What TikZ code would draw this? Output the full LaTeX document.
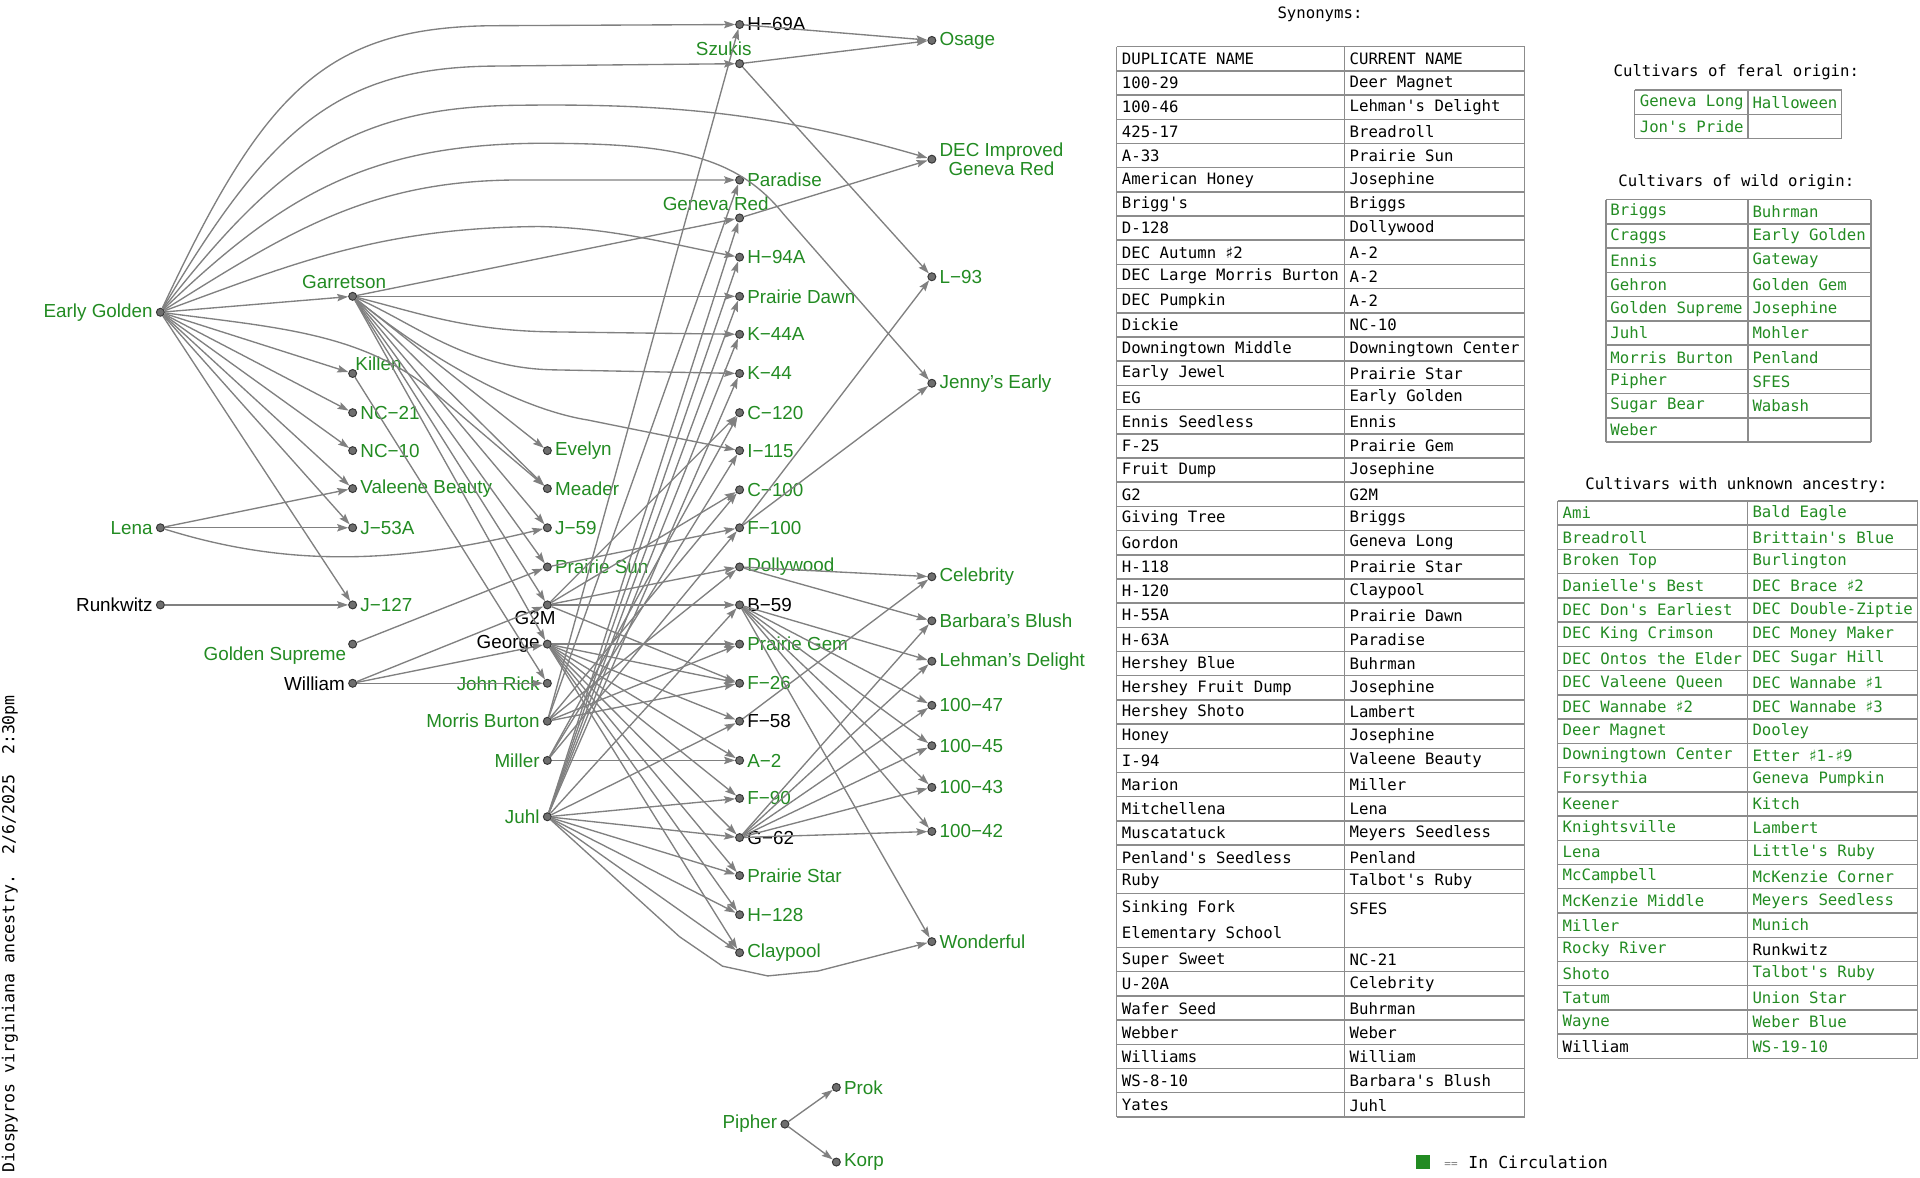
\documentclass[tikz,border=0pt]{standalone}
\usepackage{fontspec}
\setmainfont{Liberation Sans}
\newfontfamily\monofont{DejaVu Sans Mono}
\newfontfamily\symfont{DejaVu Sans}
\usepackage{xcolor}
\usetikzlibrary{arrows.meta}

\definecolor{leafgreen}{RGB}{34,139,34}
\definecolor{edgegray}{RGB}{128,128,128}
\definecolor{dotgray}{RGB}{110,110,110}
\definecolor{dotdark}{RGB}{55,55,55}
\definecolor{gridgray}{RGB}{140,140,140}
\newcommand{\shp}{{\symfont\char"266F}}

\begin{document}
\begin{tikzpicture}[x=1pt,y=-1pt,
  pt/.style={circle,fill=dotgray,draw=dotdark,line width=0.8pt,inner sep=0pt,minimum size=6.5pt},
  lab/.style={font=\fontsize{15.4}{15}\selectfont,text=leafgreen,inner sep=2.5pt},
  old/.style={lab,text=black},
  edge/.style={draw=edgegray,line width=1.1pt,-{Stealth[length=9pt,width=6pt,inset=1.5pt]}},
  tline/.style={draw=gridgray,line width=1.2pt},
  tcell/.style={font=\monofont\fontsize{12.8}{14}\selectfont,anchor=west,inner sep=0pt},
  gcell/.style={tcell,text=leafgreen},
  ttitle/.style={font=\monofont\fontsize{12.8}{14}\selectfont,inner sep=0pt}]

\useasboundingbox (0,0) rectangle (1568,962);

% Caption
\node[ttitle,font=\monofont\fontsize{13.5}{15}\selectfont,rotate=90,anchor=west] (caption) at (8,958) {Diospyros virginiana ancestry.\ \ 2/6/2025\ \ 2:30pm};

% Column 0
\node[pt,label={[lab]left:Early Golden}] (eg) at (131,255) {};
\node[pt,label={[lab]left:Lena}] (lena) at (131,431) {};
\node[pt,label={[old]left:Runkwitz}] (runk) at (131,494) {};

% Column 1
\node[pt,label={[lab,xshift=-7pt]above:Garretson}] (garr) at (288,242) {};
\node[pt,label={[lab,xshift=-3pt,yshift=-3pt]above right:Killen}] (killen) at (288,305) {};
\node[pt,label={[lab]right:NC−21}] (nc21) at (288,337) {};
\node[pt,label={[lab]right:NC−10}] (nc10) at (288,368) {};
\node[pt,label={[lab]right:Valeene Beauty}] (valeene) at (288,399) {};
\node[pt,label={[lab]right:J−53A}] (j53a) at (288,431) {};
\node[pt,label={[lab]right:J−127}] (j127) at (288,494) {};
\node[pt,label={[lab,yshift=3pt]below left:Golden Supreme}] (goldsup) at (288,526) {};
\node[pt,label={[old]left:William}] (william) at (288,558) {};

% Column 2
\node[pt,label={[lab]right:Evelyn}] (evelyn) at (447,368) {};
\node[pt,label={[lab]right:Meader}] (meader) at (447,399) {};
\node[pt,label={[lab]right:J−59}] (j59) at (447,431) {};
\node[pt,label={[lab]right:Prairie Sun}] (psun) at (447,463) {};
\node[pt,label={[old,xshift=12pt]below left:G2M}] (gtwom) at (447,494) {};
\node[pt,label={[old]left:George}] (george) at (447,526) {};
\node[pt,label={[lab]left:John Rick}] (jrick) at (447,558) {};
\node[pt,label={[lab]left:Morris Burton}] (morris) at (447,589) {};
\node[pt,label={[lab]left:Miller}] (miller) at (447,621) {};
\node[pt,label={[lab]left:Juhl}] (juhl) at (447,667) {};

% Column 3
\node[pt,label={[old]right:H−69A}] (h69a) at (604,20) {};
\node[pt,label={[lab,xshift=15pt,yshift=1pt]above left:Szukis}] (szukis) at (604,52) {};
\node[pt,label={[lab]right:Paradise}] (paradise) at (604,147) {};
\node[pt,label={[lab,xshift=29pt,yshift=1pt]above left:Geneva Red}] (genred) at (604,178) {};
\node[pt,label={[lab]right:H−94A}] (h94a) at (604,210) {};
\node[pt,label={[lab]right:Prairie Dawn}] (pdawn) at (604,242) {};
\node[pt,label={[lab]right:K−44A}] (k44a) at (604,273) {};
\node[pt,label={[lab]right:K−44}] (k44) at (604,305) {};
\node[pt,label={[lab]right:C−120}] (c120) at (604,337) {};
\node[pt,label={[lab]right:I−115}] (i115) at (604,368) {};
\node[pt,label={[lab]right:C−100}] (c100) at (604,400) {};
\node[pt,label={[lab]right:F−100}] (f100) at (604,431) {};
\node[pt,label={[lab]right:Dollywood}] (dolly) at (604,463) {};
\node[pt,label={[old]right:B−59}] (b59) at (604,494) {};
\node[pt,label={[lab]right:Prairie Gem}] (pgem) at (604,526) {};
\node[pt,label={[lab]right:F−26}] (f26) at (604,558) {};
\node[pt,label={[old]right:F−58}] (f58) at (604,589) {};
\node[pt,label={[lab]right:A−2}] (atwo) at (604,621) {};
\node[pt,label={[lab]right:F−90}] (f90) at (604,652) {};
\node[pt,label={[old]right:G−62}] (g62) at (604,684) {};
\node[pt,label={[lab]right:Prairie Star}] (pstar) at (604,715) {};
\node[pt,label={[lab]right:H−128}] (h128) at (604,747) {};
\node[pt,label={[lab]right:Claypool}] (claypool) at (604,778) {};

% Column 4
\node[pt,label={[lab]right:Osage}] (osage) at (761,33) {};
\node[pt,label={[lab,align=center]right:{DEC Improved\\Geneva Red}}] (decgr) at (761,130) {};
\node[pt,label={[lab]right:L−93}] (l93) at (761,226) {};
\node[pt,label={[lab]right:Jenny's Early}] (jenny) at (761,313) {};
\node[pt,label={[lab]right:Celebrity}] (celeb) at (761,471) {};
\node[pt,label={[lab]right:Barbara's Blush}] (barb) at (761,507) {};
\node[pt,label={[lab]right:Lehman's Delight}] (lehman) at (761,540) {};
\node[pt,label={[lab]right:100−47}] (c47) at (761,576) {};
\node[pt,label={[lab]right:100−45}] (c45) at (761,609) {};
\node[pt,label={[lab]right:100−43}] (c43) at (761,643) {};
\node[pt,label={[lab]right:100−42}] (c42) at (761,679) {};
\node[pt,label={[lab]right:Wonderful}] (wonder) at (761,769) {};

% Pipher group
\node[pt,label={[lab]left:Pipher}] (pipher) at (641,918) {};
\node[pt,label={[lab]right:Prok}] (prok) at (683,888) {};
\node[pt,label={[lab]right:Korp}] (korp) at (683,949) {};

% Early Golden
\draw[edge] (eg) .. controls (215,75) and (265,23) .. (400,21) -- (h69a);
\draw[edge] (eg) .. controls (220,105) and (275,56) .. (400,54) -- (szukis);
\draw[edge] (eg) .. controls (225,135) and (285,88) .. (420,86) .. controls (560,84) and (640,95) .. (decgr);
\draw[edge] (eg) .. controls (230,160) and (300,118) .. (440,117) .. controls (545,117) and (600,125) .. (640,175) -- (jenny);
\draw[edge] (eg) .. controls (235,190) and (300,148) .. (420,147) -- (paradise);
\draw[edge] (eg) .. controls (240,215) and (310,186) .. (440,185) .. controls (500,186) and (550,200) .. (h94a);
\draw[edge] (eg) -- (garr);
\draw[edge] (eg) -- (killen);
\draw[edge] (eg) -- (nc21);
\draw[edge] (eg) -- (nc10);
\draw[edge] (eg) -- (valeene);
\draw[edge] (eg) -- (j53a);
\draw[edge] (eg) -- (j127);
\draw[edge] (eg) .. controls (230,268) and (300,272) .. (360,325) -- (meader);

% Lena, Runkwitz, Golden Supreme, William
\draw[edge] (lena) -- (valeene);
\draw[edge] (lena) -- (j53a);
\draw[edge] (lena) .. controls (230,462) and (320,462) .. (j59);
\draw[edge] (runk) -- (j127);
\draw[edge] (goldsup) -- (psun);
\draw[edge] (william) -- (gtwom);
\draw[edge] (william) -- (george);
\draw[edge] (william) -- (jrick);

% Garretson and Killen
\draw[edge] (garr) -- (genred);
\draw[edge] (garr) -- (pdawn);
\draw[edge] (garr) .. controls (340,255) and (380,270) .. (450,271) -- (k44a);
\draw[edge] (garr) .. controls (340,265) and (380,300) .. (450,302) -- (k44);
\draw[edge] (garr) .. controls (360,300) and (430,335) .. (480,343) -- (i115);
\draw[edge] (garr) -- (evelyn);
\draw[edge] (garr) -- (meader);
\draw[edge] (garr) -- (j59);
\draw[edge] (garr) -- (psun);
\draw[edge] (garr) -- (gtwom);
\draw[edge] (garr) -- (george);
\draw[edge] (killen) -- (jrick);

% Morris Burton
\foreach \t in {h69a,paradise,c100,dolly,pgem,f26}
  \draw[edge] (morris) -- (\t);
% Juhl
\foreach \t in {genred,h94a,pdawn,k44a,k44,b59,f58,f90,g62,pstar,h128,claypool}
  \draw[edge] (juhl) -- (\t);
\draw[edge] (juhl) -- (555,765) -- (590,789) -- (627,797) -- (668,793) -- (wonder);
% G2M, George, Miller, Prairie Sun
\foreach \t in {c120,c100,dolly,b59,f26}
  \draw[edge] (gtwom) -- (\t);
\foreach \t in {pgem,f26,f58,atwo,f90,g62,pstar,h128,claypool}
  \draw[edge] (george) -- (\t);
\foreach \t in {atwo,i115,f100,c120}
  \draw[edge] (miller) -- (\t);
\draw[edge] (psun) -- (f100);

% Third generation
\draw[edge] (h69a) -- (osage);
\draw[edge] (szukis) -- (osage);
\draw[edge] (szukis) -- (l93);
\draw[edge] (genred) -- (decgr);
\draw[edge] (f100) -- (l93);
\draw[edge] (f100) -- (jenny);
\draw[edge] (dolly) -- (celeb);
\draw[edge] (dolly) -- (barb);
\draw[edge] (f58) -- (celeb);
\draw[edge] (g62) -- (barb);
\foreach \t in {lehman,c47,c45,c43,c42,wonder}
  \draw[edge] (b59) -- (\t);
\foreach \t in {lehman,c47,c45,c43,c42}
  \draw[edge] (g62) -- (\t);
\draw[edge] (pipher) -- (prok);
\draw[edge] (pipher) -- (korp);

% Synonyms table
\node[ttitle] (syntitle) at (1078,12) {Synonyms:};
\foreach \k in {0,...,35}
  \draw[tline] (912,{38.1+19.76*\k}) -- (1245,{38.1+19.76*\k});
\foreach \k in {0,...,7}
  \draw[tline] (912,{773.8+19.76*\k}) -- (1245,{773.8+19.76*\k});
\foreach \x in {912,1098,1245}
  \draw[tline] (\x,38.1) -- (\x,912.1);
\node[tcell] (synhead) at (916,48) {DUPLICATE NAME};
\node[tcell] (curhead) at (1102,48) {CURRENT NAME};
\foreach \a/\b [count=\i] in {100-29/Deer Magnet,100-46/Lehman's Delight,425-17/Breadroll,A-33/Prairie Sun,
    American Honey/Josephine,Brigg's/Briggs,D-128/Dollywood,DEC Autumn \shp2/A-2,
    DEC Large Morris Burton/A-2,DEC Pumpkin/A-2,Dickie/NC-10,Downingtown Middle/Downingtown Center,
    Early Jewel/Prairie Star,EG/Early Golden,Ennis Seedless/Ennis,F-25/Prairie Gem,Fruit Dump/Josephine,
    G2/G2M,Giving Tree/Briggs,Gordon/Geneva Long,H-118/Prairie Star,H-120/Claypool,H-55A/Prairie Dawn,
    H-63A/Paradise,Hershey Blue/Buhrman,Hershey Fruit Dump/Josephine,Hershey Shoto/Lambert,
    Honey/Josephine,I-94/Valeene Beauty,Marion/Miller,Mitchellena/Lena,Muscatatuck/Meyers Seedless,
    Penland's Seedless/Penland,Ruby/Talbot's Ruby}{
  \node[tcell] (syna\i) at (916,{48+19.76*\i}) {\a};
  \node[tcell] (synb\i) at (1102,{48+19.76*\i}) {\b};
}
\node[tcell] (sfa) at (916,742) {Sinking Fork};
\node[tcell] (sfb) at (916,763) {Elementary School};
\node[tcell] (sfc) at (1102,742) {SFES};
\foreach \a/\b [count=\i] in {Super Sweet/NC-21,U-20A/Celebrity,Wafer Seed/Buhrman,Webber/Weber,
    Williams/William,WS-8-10/Barbara's Blush,Yates/Juhl}{
  \node[tcell] (synla\i) at (916,{784+19.76*(\i-1)}) {\a};
  \node[tcell] (synlb\i) at (1102,{784+19.76*(\i-1)}) {\b};
}

% Feral origin
\node[ttitle] (feraltitle) at (1418,59) {Cultivars of feral origin:};
\foreach \k in {0,1,2}
  \draw[tline] (1335,{73.5+19.8*\k}) -- (1504,{73.5+19.8*\k});
\foreach \x in {1335,1427.5,1504}
  \draw[tline] (\x,73.5) -- (\x,113.1);
\node[gcell] (fer1) at (1339,83.4) {Geneva Long};
\node[gcell] (fer2) at (1431,83.4) {Halloween};
\node[gcell] (fer3) at (1339,103.2) {Jon's Pride};

% Wild origin
\node[ttitle] (wildtitle) at (1418,149) {Cultivars of wild origin:};
\foreach \k in {0,...,10}
  \draw[tline] (1311.5,{163+19.8*\k}) -- (1528,{163+19.8*\k});
\foreach \x in {1311.5,1427.5,1528}
  \draw[tline] (\x,163) -- (\x,361);
\foreach \a/\b [count=\i] in {Briggs/Buhrman,Craggs/Early Golden,Ennis/Gateway,Gehron/Golden Gem,
    Golden Supreme/Josephine,Juhl/Mohler,Morris Burton/Penland,Pipher/SFES,Sugar Bear/Wabash,Weber/{}}{
  \node[gcell] (wa\i) at (1315,{153.1+19.8*\i}) {\a};
  \node[gcell] (wb\i) at (1431,{153.1+19.8*\i}) {\b};
}

% Unknown ancestry
\node[ttitle] (unktitle) at (1418,396) {Cultivars with unknown ancestry:};
\foreach \k in {0,...,23}
  \draw[tline] (1272,{409+19.8*\k}) -- (1566,{409+19.8*\k});
\foreach \x in {1272,1427,1566}
  \draw[tline] (\x,409) -- (\x,864.4);
\foreach \a/\b [count=\i] in {Ami/Bald Eagle,Breadroll/Brittain's Blue,Broken Top/Burlington,
    Danielle's Best/DEC Brace \shp2,DEC Don's Earliest/DEC Double-Ziptie,DEC King Crimson/DEC Money Maker,
    DEC Ontos the Elder/DEC Sugar Hill,DEC Valeene Queen/DEC Wannabe \shp1,DEC Wannabe \shp2/DEC Wannabe \shp3,
    Deer Magnet/Dooley,Downingtown Center/Etter \shp1-\shp9,Forsythia/Geneva Pumpkin,Keener/Kitch,
    Knightsville/Lambert,Lena/Little's Ruby,McCampbell/McKenzie Corner,McKenzie Middle/Meyers Seedless,
    Miller/Munich,Rocky River/\textcolor{black}{Runkwitz},Shoto/Talbot's Ruby,Tatum/Union Star,
    Wayne/Weber Blue,\textcolor{black}{William}/WS-19-10}{
  \node[gcell] (ua\i) at (1276,{399.1+19.8*\i}) {\a};
  \node[gcell] (ub\i) at (1431,{399.1+19.8*\i}) {\b};
}

% Legend
\node[fill=leafgreen,minimum size=11pt,inner sep=0pt] (legbox) at (1162,949) {};
\node[ttitle,text=gray,font=\monofont\fontsize{9}{10}\selectfont] (legeq) at (1185,951) {==};
\node[tcell,font=\monofont\fontsize{13.5}{14}\selectfont] (legtext) at (1199,949) {In Circulation};

\end{tikzpicture}
\end{document}
